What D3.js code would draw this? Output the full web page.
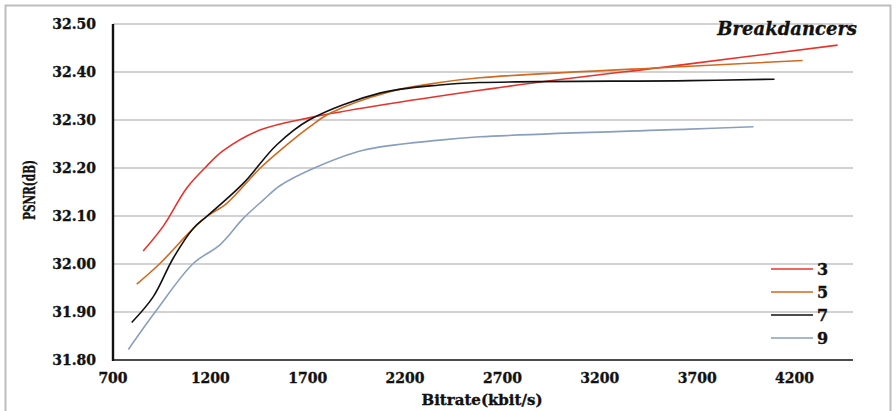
<!DOCTYPE html>
<html lang="en">
<head>
<meta charset="UTF-8">
<title>Breakdancers</title>
<script src="https://d3js.org/d3.v7.min.js"></script>
<style>
  body { margin: 0; background: #fff; }
  svg { display: block; }
  text { font-family: "DejaVu Serif", serif; font-weight: bold; fill: #111; stroke: #111; stroke-width: 0.35px; }
  .tick-label { font-size: 14px; }
</style>
</head>
<body>
<div id="chart"></div>
<script>
// series: [bitrate kbit/s, PSNR dB]
const series3 = [[855, 32.027], [960, 32.080], [1078, 32.158], [1181, 32.204], [1266, 32.236],
  [1454, 32.279], [1711, 32.305], [2583, 32.362], [3661, 32.417], [4421, 32.456]];
const series5 = [[822, 31.958], [941, 32.001], [1095, 32.067], [1181, 32.099], [1283, 32.126],
  [1454, 32.199], [1557, 32.236], [1711, 32.286], [1814, 32.314], [2122, 32.359], [2378, 32.378],
  [2584, 32.388], [3661, 32.412], [4241, 32.424]];
const series7 = [[796, 31.878], [907, 31.932], [1009, 32.012], [1112, 32.074], [1181, 32.099],
  [1369, 32.168], [1540, 32.248], [1711, 32.301], [2070, 32.356], [2378, 32.373], [2583, 32.378],
  [3661, 32.382], [4097, 32.385]];
const series9 = [[779, 31.822], [924, 31.904], [1112, 32.001], [1249, 32.040], [1369, 32.095],
  [1471, 32.133], [1557, 32.163], [1728, 32.199], [1985, 32.237], [2378, 32.258], [2583, 32.265],
  [3661, 32.281], [3989, 32.286]];

const seriesNames = ["3", "5", "7", "9"];
const seriesData = [series3, series5, series7, series9];
const colors = ["#e8332b", "#d2691e", "#111111", "#8a9fbe"];

const xTicks = [700, 1200, 1700, 2200, 2700, 3200, 3700, 4200];
const yTicks = [31.8, 31.9, 32.0, 32.1, 32.2, 32.3, 32.4, 32.5];

const width = 896, height = 411;
const svg = d3.select("#chart").append("svg")
    .attr("width", width)
    .attr("height", height);

// outer frame
svg.append("path")
    .attr("d", "M5.5,420 V5.5 H890.5 V420")
    .attr("fill", "none")
    .attr("stroke", "#bdbdbd")
    .attr("stroke-width", 2);

const x = d3.scaleLinear().domain([700, 4500]).range([113, 853]);
const y = d3.scaleLinear().domain([31.8, 32.5]).range([360, 24]);

// gridlines
svg.append("g")
    .selectAll("line")
    .data(yTicks.slice(1))
    .enter().append("line")
    .attr("x1", x(700)).attr("x2", x(4500))
    .attr("y1", d => y(d)).attr("y2", d => y(d))
    .attr("stroke", "#c3c3c3")
    .attr("stroke-width", 1.6);

// y axis labels
svg.append("g")
    .selectAll("text")
    .data(yTicks)
    .enter().append("text")
    .attr("class", "tick-label")
    .attr("x", 96)
    .attr("y", d => y(d) + 5)
    .attr("text-anchor", "end")
    .text(d => d.toFixed(2));

// x axis labels
svg.append("g")
    .selectAll("text")
    .data(xTicks)
    .enter().append("text")
    .attr("class", "tick-label")
    .attr("x", d => x(d))
    .attr("y", 383)
    .attr("text-anchor", "middle")
    .text(d => d);

// axis lines
svg.append("line")
    .attr("x1", x(700)).attr("x2", x(4500))
    .attr("y1", y(31.8)).attr("y2", y(31.8))
    .attr("stroke", "#111").attr("stroke-width", 1.6);
svg.append("line")
    .attr("x1", x(700)).attr("x2", x(700))
    .attr("y1", y(31.8) + 1).attr("y2", y(32.5))
    .attr("stroke", "#111").attr("stroke-width", 2.4);

// curves
const line = d3.line()
    .x(d => x(d[0]))
    .y(d => y(d[1]))
    .curve(d3.curveCatmullRom.alpha(0.5));

svg.append("g")
    .selectAll("path")
    .data(seriesData)
    .enter().append("path")
    .attr("d", line)
    .attr("fill", "none")
    .attr("stroke", (d, i) => colors[i])
    .attr("stroke-width", 1.6);

// legend
const legend = svg.append("g")
    .selectAll("g")
    .data(seriesNames)
    .enter().append("g")
    .attr("transform", (d, i) => `translate(771,${269 + i * 23})`);
legend.append("line")
    .attr("x1", 0).attr("x2", 42)
    .attr("stroke", (d, i) => colors[i])
    .attr("stroke-width", 1.6);
legend.append("text")
    .attr("x", 46)
    .attr("y", 6)
    .style("font-size", "16px")
    .text(d => d);

// title
svg.append("text")
    .attr("x", 857)
    .attr("y", 35)
    .attr("text-anchor", "end")
    .style("font-style", "italic")
    .style("font-size", "18px")
    .text("Breakdancers");

// axis titles
svg.append("text")
    .attr("x", 482)
    .attr("y", 405)
    .attr("text-anchor", "middle")
    .style("font-size", "15px")
    .text("Bitrate(kbit/s)");

svg.append("text")
    .attr("transform", "translate(35,190) rotate(-90)")
    .attr("text-anchor", "middle")
    .attr("textLength", 60)
    .attr("lengthAdjust", "spacingAndGlyphs")
    .style("font-size", "16px")
    .text("PSNR(dB)");
</script>
</body>
</html>
